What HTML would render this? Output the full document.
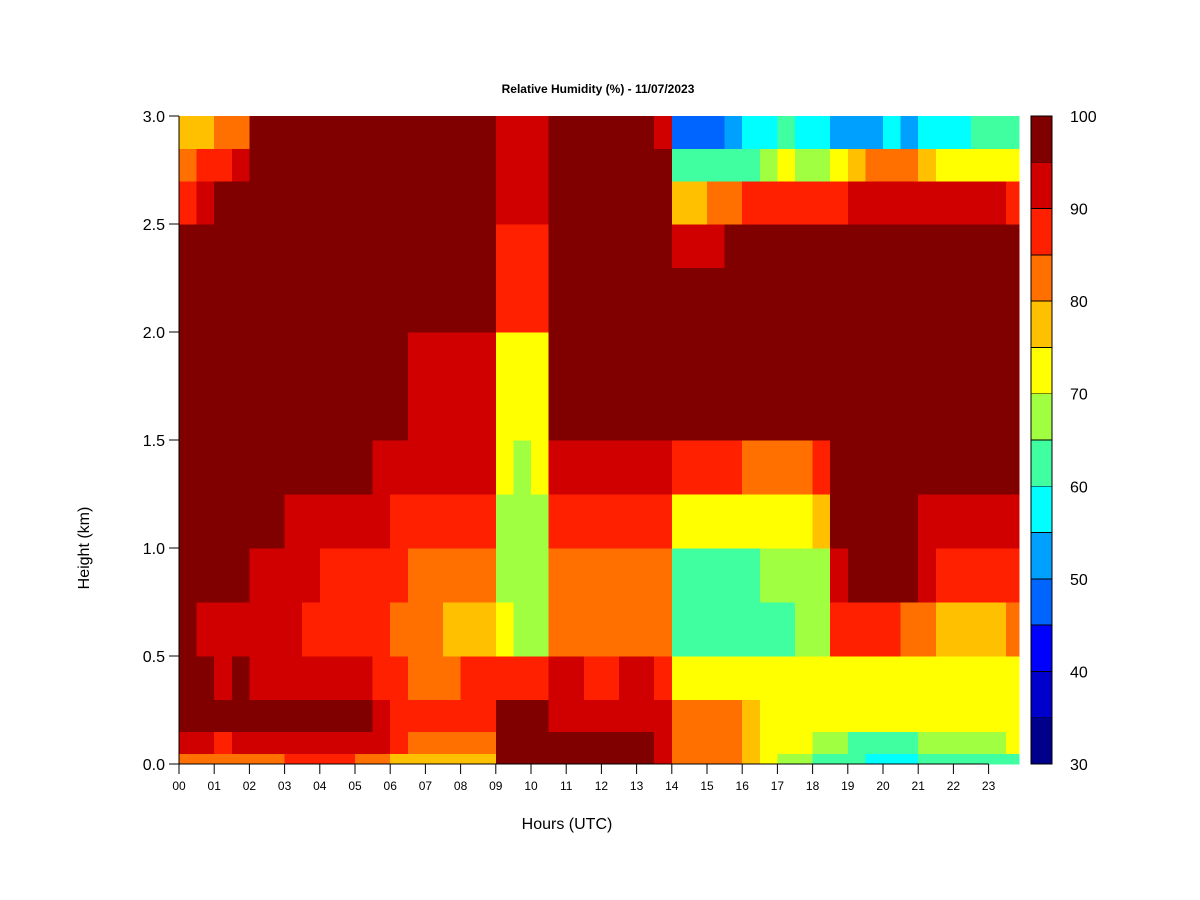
<!DOCTYPE html>
<html><head><meta charset="utf-8"><style>
html,body{margin:0;padding:0;background:#fff;}
svg{display:block;font-family:"Liberation Sans",Arial,sans-serif;}
</style></head><body>
<svg id="chart" width="1200" height="900" viewBox="0 0 1200 900" xmlns="http://www.w3.org/2000/svg">
<rect x="0" y="0" width="1200" height="900" fill="#fff"/>
<text x="598" y="93" text-anchor="middle" font-size="12" font-weight="bold">Relative Humidity (%) - 11/07/2023</text>
<g id="cells" shape-rendering="crispEdges"></g>
<g id="axes"></g>
<g id="cbar" shape-rendering="crispEdges"></g>
<text x="567" y="829" text-anchor="middle" font-size="16">Hours (UTC)</text>
<text x="89" y="548" text-anchor="middle" font-size="16" transform="rotate(-90 89 548)">Height (km)</text>
</svg>
<script>
// height band edges (km), bottom to top
const heightEdges = [0,0.05,0.15,0.3,0.5,0.75,1.0,1.25,1.5,2.0,2.3,2.5,2.7,2.85,3.0];
const timeStep = 0.5;
const timeEnd = 23.86;
// RH values per half-hour column, bottom band to top band
const rhColumns = [
[80,90,96,97,97,97,97,97,97,97,95,88,82,76],
[80,90,96,95,94,96,97,97,97,97,97,92,85,78],
[82,88,95,94,92,96,97,97,97,97,97,95,86,80],
[84,90,96,95,93,97,97,97,97,97,97,97,90,82],
[84,90,96,93,92,93,97,97,97,97,97,97,97,97],
[84,92,96,92,90,92,96,97,97,97,97,97,97,97],
[85,92,96,91,90,90,94,96,97,97,97,97,97,97],
[86,94,96,91,89,90,93,95,97,97,97,97,97,97],
[86,94,96,90,89,89,92,95,97,97,97,97,97,97],
[86,93,96,91,88,89,92,95,97,97,97,97,97,97],
[84,92,95,90,88,88,91,95,97,97,97,97,97,97],
[82,90,93,89,87,87,90,94,97,97,97,97,97,97],
[78,86,88,86,84,85,88,93,95,97,97,97,97,97],
[76,84,86,84,82,84,87,92,94,97,97,97,97,97],
[75,83,85,84,80,82,86,90,93,97,97,97,97,97],
[76,83,86,83,79,82,86,90,93,97,97,97,97,97],
[76,83,86,85,78,82,87,91,94,97,97,97,97,97],
[78,84,88,86,78,80,86,90,94,97,97,97,97,97],
[95,96,96,88,70,68,68,70,72,85,88,90,90,90],
[95,96,96,86,66,65,66,68,70,85,88,90,90,90],
[96,96,95,86,68,66,68,70,72,86,88,90,90,90],
[96,96,94,90,80,82,88,92,96,97,97,97,97,97],
[96,96,94,90,82,80,86,90,96,97,97,97,97,97],
[96,96,94,88,80,80,85,90,96,97,97,97,97,97],
[96,96,94,89,80,80,86,91,97,97,97,97,97,97],
[96,96,94,90,80,81,87,91,97,97,97,97,97,97],
[95,95,93,90,82,82,88,92,97,97,97,97,97,97],
[94,94,92,88,80,80,86,90,96,97,97,97,97,93],
[84,84,82,74,64,64,74,88,96,97,90,77,60,47],
[84,84,82,72,62,62,72,86,96,97,92,78,60,46],
[84,84,80,72,63,63,72,86,96,97,94,80,62,48],
[84,84,80,73,64,64,72,86,96,97,96,84,62,52],
[78,78,76,72,63,64,72,84,96,97,97,86,64,55],
[70,72,72,70,64,66,72,82,96,97,97,88,66,55],
[67,70,72,70,64,66,73,84,96,97,97,88,72,60],
[66,70,72,70,65,67,74,84,96,97,97,86,68,56],
[64,68,70,70,66,68,76,88,96,97,97,86,66,56],
[62,66,72,74,86,92,96,97,97,97,97,88,72,54],
[60,64,70,74,88,95,96,97,97,97,97,93,78,50],
[58,64,70,74,88,96,96,97,97,97,97,92,80,52],
[58,64,70,74,86,96,97,97,97,97,97,92,80,56],
[58,64,70,74,84,95,96,97,97,97,97,92,80,54],
[60,66,70,73,80,90,94,97,97,97,97,90,76,56],
[62,68,72,74,78,88,92,97,97,97,97,90,74,56],
[62,68,72,74,78,86,92,97,97,97,97,90,74,58],
[62,68,72,74,78,86,92,97,97,97,97,90,72,60],
[62,68,70,72,76,86,92,97,97,97,97,90,74,60],
[64,70,72,74,80,88,94,97,97,97,97,88,74,60]
];
const levels = [30,35,40,45,50,55,60,65,70,75,80,85,90,95,100];
const levelColors = ["#00008B","#0000CD","#0000FF","#0064FF","#00A0FF","#00FFFF","#40FFA0","#A0FF40","#FFFF00","#FFC000","#FF7000","#FF2000","#D00000","#800000"];
const xTickLabels = ["00","01","02","03","04","05","06","07","08","09","10","11","12","13","14","15","16","17","18","19","20","21","22","23"];
const yTickLabels = ["0.0","0.5","1.0","1.5","2.0","2.5","3.0"];
const cbarLabels = ["30","40","50","60","70","80","90","100"];

const NS="http://www.w3.org/2000/svg";
const X0=179,X1=1019,Y0=764,Y1=116,HW=35.2;
const xs=h=>X0+h*HW;
const ys=km=>Y0-(km/3)*(Y0-Y1);
function colorFor(v){for(let i=0;i<levelColors.length;i++){if(v<levels[i+1])return levelColors[i];}return levelColors[levelColors.length-1];}
function mk(tag,attrs,parent){const e=document.createElementNS(NS,tag);for(const k in attrs)e.setAttribute(k,attrs[k]);parent.appendChild(e);return e;}

const cells=document.getElementById('cells');
rhColumns.forEach((col,ci)=>{
  const t0=ci*timeStep,t1=Math.min(timeEnd,(ci+1)*timeStep);
  const xa=xs(t0),xb=xs(t1);
  col.forEach((v,ri)=>{
    const ya=ys(heightEdges[ri+1]),yb=ys(heightEdges[ri]);
    const r=mk('rect',{x:xa.toFixed(2),y:ya.toFixed(2),width:(xb-xa+0.6).toFixed(2),height:(yb-ya+0.6).toFixed(2),fill:colorFor(v)},cells);
    
    
  });
});

const axes=document.getElementById('axes');
const xl=mk('line',{x1:X0,y1:Y0,x2:xs(xTickLabels.length-1),y2:Y0,stroke:'#000','stroke-width':1},axes);


const yl=mk('line',{x1:X0,y1:Y0,x2:X0,y2:Y1,stroke:'#000','stroke-width':1},axes);


xTickLabels.forEach((lab,i)=>{
  const x=xs(i);
  const t=mk('line',{x1:x,y1:Y0,x2:x,y2:Y0+10,stroke:'#000'},axes);
  
  
  const tx=mk('text',{x:x,y:790,'text-anchor':'middle','font-size':12},axes);
  tx.textContent=lab;
  
  
});
yTickLabels.forEach(lab=>{
  const y=ys(parseFloat(lab));
  const t=mk('line',{x1:X0-10,y1:y,x2:X0,y2:y,stroke:'#000'},axes);
  
  
  const tx=mk('text',{x:165,y:y+6,'text-anchor':'end','font-size':16},axes);
  tx.textContent=lab;
  
  
});

const cb=document.getElementById('cbar');
const CX=1031,CW=21;
const cy=v=>Y0-(v-30)/70*(Y0-Y1);
levelColors.forEach((c,i)=>{
  const ya=cy(levels[i+1]),yb=cy(levels[i]);
  const r=mk('rect',{x:CX,y:ya,width:CW,height:yb-ya,fill:c,stroke:'#000','stroke-width':0.8},cb);
  
  
});
cbarLabels.forEach(lab=>{
  const y=cy(parseFloat(lab));
  const tx=mk('text',{x:1070,y:y+6,'font-size':16},cb);
  tx.textContent=lab;
  
  
});
</script>
</body></html>
